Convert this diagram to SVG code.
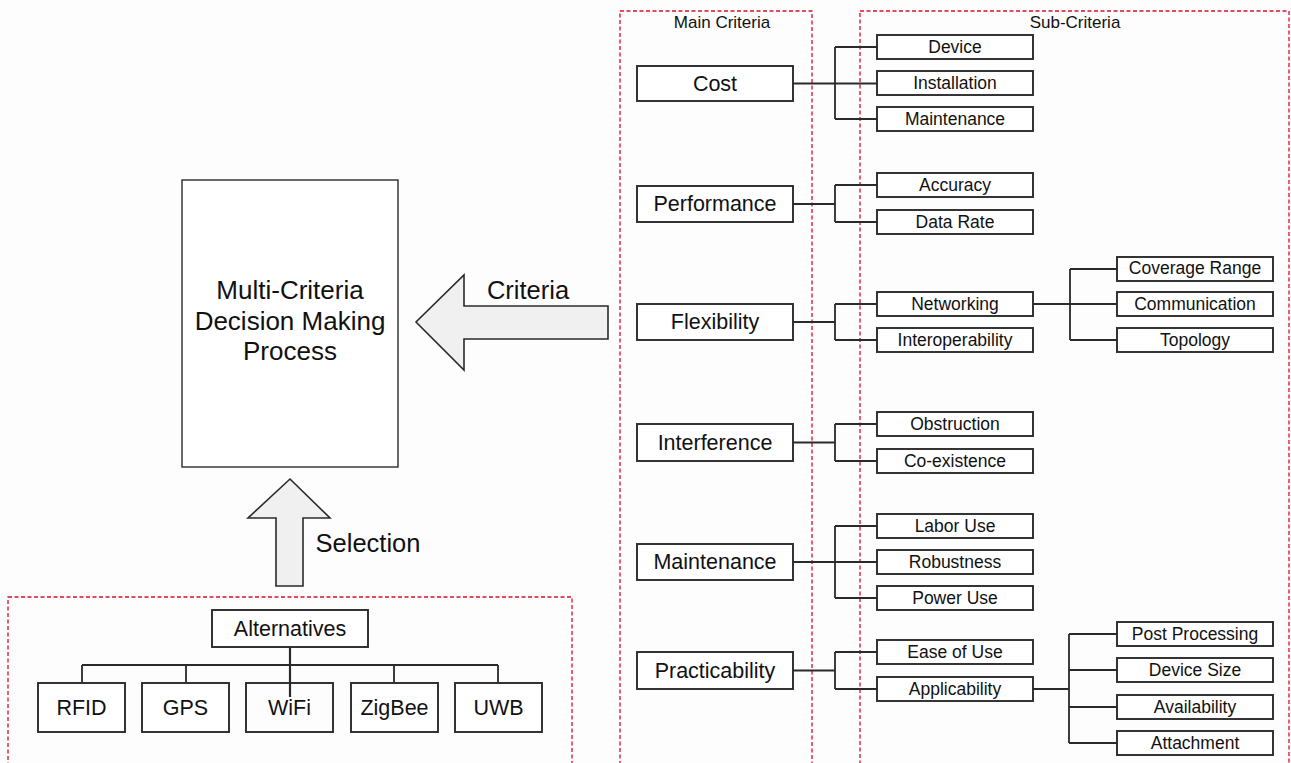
<svg xmlns="http://www.w3.org/2000/svg" width="1291" height="763" viewBox="0 0 1291 763">
<style>
.bg{fill:#fdfdfd}
.box{fill:#fff;stroke:#2a2a2a;stroke-width:1.9}
.dash{fill:none;stroke:#d8102a;stroke-width:1.3;stroke-dasharray:4 2.5}
.ln{fill:none;stroke:#2a2a2a;stroke-width:1.8}
.arr{fill:#f0f0f0;stroke:#2a2a2a;stroke-width:1.6;stroke-linejoin:miter}
text{font-family:"Liberation Sans",Arial,sans-serif;fill:#111;text-anchor:middle}
.m{font-size:21.5px}
.s{font-size:17.5px}
.h{font-size:17px}
.big{font-size:25.5px}
.mc{font-size:26px}
</style>
<rect class="bg" x="0" y="0" width="1291" height="763"/>

<g id="regions">
<rect class="dash" x="620" y="11" width="192" height="770"/>
<rect class="dash" x="860" y="11" width="429" height="770"/>
<rect class="dash" x="8" y="597" width="564" height="200"/>
<text class="h" x="722" y="28">Main Criteria</text>
<text class="h" x="1075" y="28">Sub-Criteria</text>
</g>

<g id="connectors">
<path class="ln" d="M793 83.5H877M835 47V119M835 47H877M835 119H877"/>
<path class="ln" d="M793 204H835M835 185V222M835 185H877M835 222H877"/>
<path class="ln" d="M793 322H835M835 304V340M835 304H877M835 340H877"/>
<path class="ln" d="M793 442.5H835M835 424V461M835 424H877M835 461H877"/>
<path class="ln" d="M793 562H877M835 526V598M835 526H877M835 598H877"/>
<path class="ln" d="M793 670.5H835M835 652V689M835 652H877M835 689H877"/>
<path class="ln" d="M1033 304H1117M1070 269V340M1070 269H1117M1070 340H1117"/>
<path class="ln" d="M1033 689H1069M1069 634V743M1069 634H1117M1069 670H1117M1069 707H1117M1069 743H1117"/>
<path class="ln" d="M82 665H498M82 665V683M186 665V683M394 665V683M498 665V683"/>
<path class="ln" d="M290 647V697" style="stroke-width:2.2"/>
</g>

<g id="arrow-criteria">
<polygon class="arr" points="608,306 464,306 464,275 416,322 464,370 464,339 608,339"/>
<text class="big" x="528" y="299">Criteria</text>
</g>
<g id="arrow-selection">
<polygon class="arr" points="290,479 330,518 303,518 303,586 276,586 276,518 248,518"/>
<text class="big" x="368" y="552">Selection</text>
</g>

<g id="mcdm">
<rect class="box" x="182" y="180" width="216" height="287" style="stroke-width:1.4"/>
<text class="mc" x="290" y="299">Multi-Criteria</text>
<text class="mc" x="290" y="330">Decision Making</text>
<text class="mc" x="290" y="360">Process</text>
</g>

<g id="main-cost"><rect class="box" x="637" y="66" width="156" height="35"/><text class="m" x="715" y="91">Cost</text></g>
<g id="main-performance"><rect class="box" x="637" y="186" width="156" height="36"/><text class="m" x="715" y="211">Performance</text></g>
<g id="main-flexibility"><rect class="box" x="637" y="304" width="156" height="36"/><text class="m" x="715" y="329">Flexibility</text></g>
<g id="main-interference"><rect class="box" x="637" y="424" width="156" height="37"/><text class="m" x="715" y="450">Interference</text></g>
<g id="main-maintenance"><rect class="box" x="637" y="544" width="156" height="36"/><text class="m" x="715" y="569">Maintenance</text></g>
<g id="main-practicability"><rect class="box" x="637" y="652" width="156" height="37"/><text class="m" x="715" y="678">Practicability</text></g>

<g id="sub-device"><rect class="box" x="877" y="35" width="156" height="24"/><text class="s" x="955" y="53">Device</text></g>
<g id="sub-installation"><rect class="box" x="877" y="71" width="156" height="24"/><text class="s" x="955" y="89">Installation</text></g>
<g id="sub-maintenance"><rect class="box" x="877" y="107" width="156" height="24"/><text class="s" x="955" y="125">Maintenance</text></g>
<g id="sub-accuracy"><rect class="box" x="877" y="173" width="156" height="24"/><text class="s" x="955" y="191">Accuracy</text></g>
<g id="sub-datarate"><rect class="box" x="877" y="210" width="156" height="24"/><text class="s" x="955" y="228">Data Rate</text></g>
<g id="sub-networking"><rect class="box" x="877" y="292" width="156" height="24"/><text class="s" x="955" y="310">Networking</text></g>
<g id="sub-interoperability"><rect class="box" x="877" y="328" width="156" height="24"/><text class="s" x="955" y="346">Interoperability</text></g>
<g id="sub-obstruction"><rect class="box" x="877" y="412" width="156" height="24"/><text class="s" x="955" y="430">Obstruction</text></g>
<g id="sub-coexistence"><rect class="box" x="877" y="449" width="156" height="24"/><text class="s" x="955" y="467">Co-existence</text></g>
<g id="sub-laboruse"><rect class="box" x="877" y="514" width="156" height="24"/><text class="s" x="955" y="532">Labor Use</text></g>
<g id="sub-robustness"><rect class="box" x="877" y="550" width="156" height="24"/><text class="s" x="955" y="568">Robustness</text></g>
<g id="sub-poweruse"><rect class="box" x="877" y="586" width="156" height="24"/><text class="s" x="955" y="604">Power Use</text></g>
<g id="sub-easeofuse"><rect class="box" x="877" y="640" width="156" height="24"/><text class="s" x="955" y="658">Ease of Use</text></g>
<g id="sub-applicability"><rect class="box" x="877" y="677" width="156" height="24"/><text class="s" x="955" y="695">Applicability</text></g>

<g id="sub-coverage"><rect class="box" x="1117" y="257" width="156" height="24"/><text class="s" x="1195" y="274">Coverage Range</text></g>
<g id="sub-communication"><rect class="box" x="1117" y="292" width="156" height="24"/><text class="s" x="1195" y="310">Communication</text></g>
<g id="sub-topology"><rect class="box" x="1117" y="328" width="156" height="24"/><text class="s" x="1195" y="346">Topology</text></g>
<g id="sub-postprocessing"><rect class="box" x="1117" y="622" width="156" height="24"/><text class="s" x="1195" y="640">Post Processing</text></g>
<g id="sub-devicesize"><rect class="box" x="1117" y="658" width="156" height="24"/><text class="s" x="1195" y="676">Device Size</text></g>
<g id="sub-availability"><rect class="box" x="1117" y="695" width="156" height="24"/><text class="s" x="1195" y="713">Availability</text></g>
<g id="sub-attachment"><rect class="box" x="1117" y="731" width="156" height="24"/><text class="s" x="1195" y="749">Attachment</text></g>

<g id="alt-root"><rect class="box" x="212" y="610" width="156" height="37"/><text class="m" x="290" y="636">Alternatives</text></g>
<g id="alt-rfid"><rect class="box" x="38" y="683" width="87" height="49"/><text class="m" x="81.5" y="715">RFID</text></g>
<g id="alt-gps"><rect class="box" x="142" y="683" width="87" height="49"/><text class="m" x="185.5" y="715">GPS</text></g>
<g id="alt-wifi"><rect class="box" x="246" y="683" width="87" height="49" style="fill:none"/><text class="m" x="289.5" y="715">WiFi</text></g>
<g id="alt-zigbee"><rect class="box" x="351" y="683" width="87" height="49"/><text class="m" x="394.5" y="715">ZigBee</text></g>
<g id="alt-uwb"><rect class="box" x="455" y="683" width="87" height="49"/><text class="m" x="498.5" y="715">UWB</text></g>
</svg>
